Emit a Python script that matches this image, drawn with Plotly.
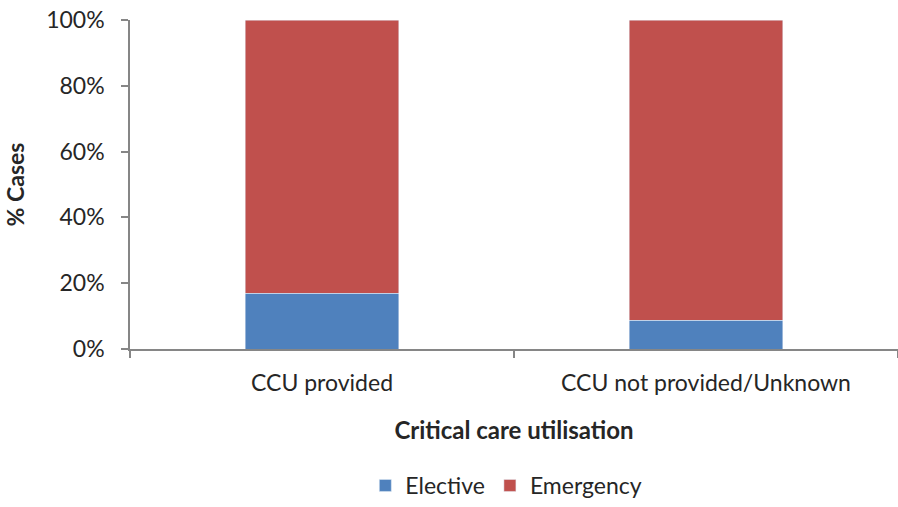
import plotly.graph_objects as go

categories = ["CCU provided", "CCU not provided/Unknown"]
elective = [0.17, 0.087]
emergency = [0.83, 0.913]
y_ticks = [0, 0.2, 0.4, 0.6, 0.8, 1.0]

FONT = "Lato, 'Open Sans', sans-serif"
TXT = "#262626"
AX = "#868686"

fig = go.Figure()
fig.add_trace(go.Bar(name="Elective", x=categories, y=elective, marker_color="#4F81BD"))
fig.add_trace(go.Bar(name="Emergency", x=categories, y=emergency, marker_color="#C0504D"))

fig.update_layout(
    barmode="stack",
    bargap=0.6,
    width=898, height=507,
    margin=dict(l=130, r=0, t=20, b=146),
    plot_bgcolor="white", paper_bgcolor="white",
    font=dict(family=FONT, color=TXT, size=23),
    legend=dict(orientation="h", x=0.49, xanchor="center", y=-0.35, yanchor="top",
                font=dict(size=23, color=TXT), traceorder="normal"),
    xaxis=dict(
        automargin=False,
        showline=True, linecolor=AX, linewidth=1.5,
        ticks="outside", tickson="boundaries", ticklen=7, tickcolor=AX, tickwidth=1.5,
        ticklabelstandoff=13, ticklabeloverflow="allow",
        tickfont=dict(size=23, color=TXT),
        title=dict(text="<b>Critical care utilisation</b>", font=dict(size=24, color=TXT), standoff=27),
    ),
    yaxis=dict(
        automargin=False,
        range=[0, 1], tickvals=y_ticks, tickformat=".0%",
        showline=True, linecolor=AX, linewidth=1.5,
        ticks="outside", ticklen=7, tickcolor=AX, tickwidth=1.5,
        ticklabelstandoff=12, ticklabeloverflow="allow",
        showgrid=False, zeroline=False,
        tickfont=dict(size=23, color=TXT),
        title=dict(text="<b>% Cases</b>", font=dict(size=23, color=TXT), standoff=15),
    ),
)

fig.write_html("out.html", config={"displayModeBar": False},
               post_script="document.body.style.margin='0';")
